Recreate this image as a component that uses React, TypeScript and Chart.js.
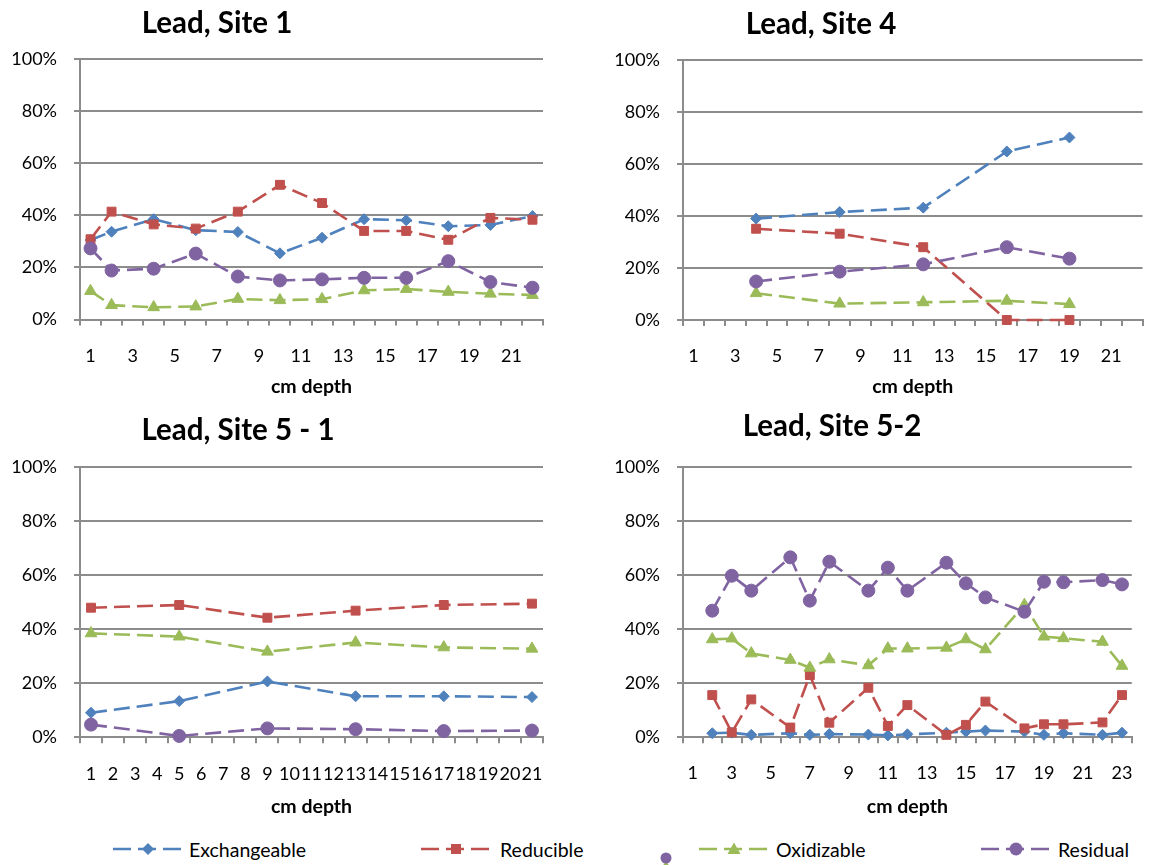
import React, { useEffect, useRef } from "react";
import { Chart, registerables } from "chart.js";

Chart.register(...registerables);

const FONT = "Lato, 'Open Sans', sans-serif";
const GRID = "#8c8c8c";

// ---------- series definitions ----------
const seriesNames = ["Exchangeable", "Reducible", "Oxidizable", "Residual"];
const seriesColors = ["#4F81BD", "#C0504D", "#9BBB59", "#8064A2"];
const seriesPoints = ["rectRot", "rect", "triangle", "circle"];
const seriesRadius = [5.5, 6.3, 6.8, 6.5];

// ---------- Lead, Site 1 ----------
const site1Categories = ["1", "2", "3", "4", "5", "6", "7", "8", "9", "10", "11", "12", "13", "14", "15", "16", "17", "18", "19", "20", "21", "22"];
const site1Depths = [1, 2, 4, 6, 8, 10, 12, 14, 16, 18, 20, 22];
const site1Exchangeable = [30.5, 33.7, 38.5, 34.3, 33.6, 25.4, 31.4, 38.5, 38.1, 35.8, 36.3, 39.7];
const site1Reducible = [30.8, 41.4, 36.5, 34.9, 41.4, 51.7, 44.7, 34.0, 34.0, 30.6, 39.0, 38.3];
const site1Oxidizable = [10.9, 5.5, 4.7, 5.0, 7.9, 7.4, 7.8, 11.2, 11.7, 10.6, 9.9, 9.4];
const site1Residual = [27.3, 18.8, 19.5, 25.3, 16.5, 15.0, 15.4, 16.0, 16.0, 22.4, 14.4, 12.2];

// ---------- Lead, Site 4 ----------
const site4Categories = ["1", "2", "3", "4", "5", "6", "7", "8", "9", "10", "11", "12", "13", "14", "15", "16", "17", "18", "19", "20", "21", "22"];
const site4Depths = [4, 8, 12, 16, 19];
const site4Exchangeable = [39.0, 41.5, 43.2, 64.8, 70.2];
const site4Reducible = [35.1, 33.2, 28.0, 0, 0];
const site4Oxidizable = [10.3, 6.3, 6.8, 7.4, 6.1];
const site4Residual = [14.8, 18.6, 21.4, 28.0, 23.6];

// ---------- Lead, Site 5 - 1 ----------
const site51Categories = ["1", "2", "3", "4", "5", "6", "7", "8", "9", "10", "11", "12", "13", "14", "15", "16", "17", "18", "19", "20", "21"];
const site51Depths = [1, 5, 9, 13, 17, 21];
const site51Exchangeable = [9.1, 13.4, 20.7, 15.2, 15.2, 14.9];
const site51Reducible = [48.0, 49.0, 44.3, 46.9, 49.0, 49.5];
const site51Oxidizable = [38.5, 37.3, 31.7, 35.1, 33.3, 32.8];
const site51Residual = [4.7, 0.5, 3.3, 3.0, 2.3, 2.5];

// ---------- Lead, Site 5-2 ----------
const site52Categories = ["1", "2", "3", "4", "5", "6", "7", "8", "9", "10", "11", "12", "13", "14", "15", "16", "17", "18", "19", "20", "21", "22", "23"];
const site52Depths = [2, 3, 4, 6, 7, 8, 10, 11, 12, 14, 15, 16, 18, 19, 20, 22, 23];
const site52Exchangeable = [1.5, 1.7, 0.9, 1.5, 0.9, 1.2, 1.0, 0.7, 1.1, 1.7, 2.1, 2.5, 2.1, 0.9, 1.5, 0.9, 1.7];
const site52Reducible = [15.6, 1.8, 14.0, 3.6, 23.0, 5.4, 18.3, 4.2, 11.9, 0.9, 4.6, 13.2, 3.3, 4.8, 4.8, 5.5, 15.6];
const site52Oxidizable = [36.2, 36.5, 31.0, 28.6, 25.7, 28.8, 26.6, 32.8, 32.8, 33.1, 36.2, 32.5, 48.9, 37.2, 36.6, 35.3, 26.4];
const site52Residual = [46.8, 59.7, 54.2, 66.5, 50.5, 64.9, 54.2, 62.7, 54.2, 64.5, 56.9, 51.7, 46.4, 57.5, 57.3, 58.1, 56.5];

const yTicks = [0, 20, 40, 60, 80, 100];

type PanelSpec = {
  title: string;
  titleX: number;
  titleY: number;
  categories: string[];
  depths: number[];
  values: number[][];
  labelEvery: number;
  x: number;
  y: number;
  w: number;
  h: number;
  plotLeft: number;
  plotRight: number;
  plotTop: number;
  plotBottom: number;
  labelY: number;
  axisTitleY: number;
};

const panels: PanelSpec[] = [
  {
    title: "Lead, Site 1", titleX: 217, titleY: 23,
    categories: site1Categories, depths: site1Depths,
    values: [site1Exchangeable, site1Reducible, site1Oxidizable, site1Residual],
    labelEvery: 2,
    x: 0, y: 0, w: 576, h: 400,
    plotLeft: 80, plotRight: 543, plotTop: 59, plotBottom: 319.5, labelY: 356, axisTitleY: 386.5,
  },
  {
    title: "Lead, Site 4", titleX: 821, titleY: 24,
    categories: site4Categories, depths: site4Depths,
    values: [site4Exchangeable, site4Reducible, site4Oxidizable, site4Residual],
    labelEvery: 2,
    x: 576, y: 0, w: 576, h: 400,
    plotLeft: 683, plotRight: 1147, plotTop: 60, plotBottom: 320, labelY: 356.5, axisTitleY: 386.5,
  },
  {
    title: "Lead, Site 5 - 1", titleX: 238, titleY: 430,
    categories: site51Categories, depths: site51Depths,
    values: [site51Exchangeable, site51Reducible, site51Oxidizable, site51Residual],
    labelEvery: 1,
    x: 0, y: 400, w: 576, h: 420,
    plotLeft: 80, plotRight: 543, plotTop: 467.3, plotBottom: 737.3, labelY: 774.5, axisTitleY: 806.5,
  },
  {
    title: "Lead, Site 5-2", titleX: 832, titleY: 426,
    categories: site52Categories, depths: site52Depths,
    values: [site52Exchangeable, site52Reducible, site52Oxidizable, site52Residual],
    labelEvery: 2,
    x: 576, y: 400, w: 576, h: 420,
    plotLeft: 683, plotRight: 1147, plotTop: 466.7, plotBottom: 737.3, labelY: 773.5, axisTitleY: 807,
  },
];

const TICK_SIZE = 18;
const AXIS_TITLE_SIZE = 19.5;
const TICK_LEN = 6;
const TITLE_SIZE = 29.5;
const LEGEND_SIZE = 19.5;

function Panel({ spec }: { spec: PanelSpec }) {
  const ref = useRef<HTMLCanvasElement | null>(null);
  useEffect(() => {
    const canvas = ref.current;
    if (!canvas) return;
    const padTop = spec.plotTop - spec.y;
    const padRight = spec.x + spec.w - spec.plotRight;
    const yWidth = spec.plotLeft - spec.x;
    const xHeight = spec.y + spec.h - spec.plotBottom;
    const lh = TICK_SIZE * 1.2;
    const xTickPad = spec.labelY - spec.plotBottom - TICK_LEN - lh / 2;
    const tlh = AXIS_TITLE_SIZE * 1.2;
    const xTitlePadBottom = spec.y + spec.h - spec.axisTitleY - tlh / 2;

    const datasets = seriesNames.map((name, i) => ({
      label: name,
      data: spec.categories.map((c) => {
        const k = spec.depths.indexOf(Number(c));
        return k >= 0 ? spec.values[i][k] : null;
      }),
      borderColor: seriesColors[i],
      backgroundColor: seriesColors[i],
      borderWidth: 2.6,
      borderDash: [16, 7],
      pointStyle: seriesPoints[i] as any,
      pointRadius: seriesRadius[i],
      pointBorderWidth: 1,
      pointBackgroundColor: seriesColors[i],
      pointBorderColor: seriesColors[i],
      spanGaps: true,
      tension: 0,
      order: 3 - i,
      clip: 10,
    }));

    const chart = new Chart(canvas, {
      type: "line",
      data: { labels: spec.categories, datasets: datasets as any },
      options: {
        responsive: false,
        animation: false,
        devicePixelRatio: 1,
        events: [],
        layout: { padding: { top: padTop, right: padRight, left: 0, bottom: 0 } },
        plugins: {
          legend: { display: false },
          tooltip: { enabled: false },
          title: { display: false },
        },
        scales: {
          x: {
            type: "category",
            offset: true,
            grid: {
              offset: true,
              drawOnChartArea: false,
              drawTicks: true,
              tickLength: TICK_LEN,
              color: GRID,
              lineWidth: 2,
            },
            border: { display: true, color: GRID, width: 2 },
            ticks: {
              autoSkip: false,
              maxRotation: 0,
              minRotation: 0,
              padding: xTickPad,
              color: "#000",
              font: { family: FONT, size: TICK_SIZE },
              callback: function (this: any, v: any, i: number) {
                return i % spec.labelEvery === 0 ? this.getLabelForValue(v) : "";
              },
            },
            title: {
              display: true,
              text: "cm depth",
              color: "#000",
              font: { family: FONT, size: AXIS_TITLE_SIZE, weight: "bold" },
              padding: { top: 0, bottom: xTitlePadBottom },
            },
            afterFit: (s: any) => {
              s.height = xHeight;
            },
          },
          y: {
            min: 0,
            max: 100,
            afterBuildTicks: (s: any) => {
              s.ticks = yTicks.map((v) => ({ value: v }));
            },
            ticks: {
              padding: 17,
              color: "#000",
              font: { family: FONT, size: TICK_SIZE },
              callback: (v: any) => v + "%",
            },
            grid: { color: GRID, lineWidth: 2, tickLength: TICK_LEN },
            border: { display: true, color: GRID, width: 2 },
            afterFit: (s: any) => {
              s.width = yWidth;
            },
          },
        },
      } as any,
    });
    return () => chart.destroy();
  }, [spec]);

  return (
    <>
      <canvas
        ref={ref}
        width={spec.w}
        height={spec.h}
        style={{ position: "absolute", left: spec.x, top: spec.y, width: spec.w, height: spec.h }}
      />
      <div
        style={{
          position: "absolute",
          left: spec.titleX - 200,
          width: 400,
          top: spec.titleY - 0.53 * TITLE_SIZE,
          textAlign: "center",
          fontFamily: FONT,
          fontWeight: 700,
          fontSize: TITLE_SIZE,
          lineHeight: 1,
          color: "#000",
          whiteSpace: "nowrap",
        }}
      >
        {spec.title}
      </div>
    </>
  );
}

const legendMarkerX = [148, 456, 734, 1016];
const legendTextX = [189, 500, 776, 1058];
const LEGEND_Y = 849;

function Marker({ kind, cx, cy, color }: { kind: string; cx: number; cy: number; color: string }) {
  if (kind === "rectRot")
    return <polygon points={`${cx - 6},${cy} ${cx},${cy - 6} ${cx + 6},${cy} ${cx},${cy + 6}`} fill={color} />;
  if (kind === "rect") return <rect x={cx - 5} y={cy - 5} width={10} height={10} fill={color} />;
  if (kind === "triangle")
    return <polygon points={`${cx - 6.5},${cy + 5} ${cx + 6.5},${cy + 5} ${cx},${cy - 6.5}`} fill={color} />;
  return <circle cx={cx} cy={cy} r={6.5} fill={color} />;
}

function Legend() {
  return (
    <svg
      width={1152}
      height={45}
      viewBox="0 820 1152 45"
      style={{ position: "absolute", left: 0, top: 820 }}
    >
      {seriesNames.map((name, i) => (
        <g key={name}>
          <line
            x1={legendMarkerX[i] - 35}
            y1={LEGEND_Y}
            x2={legendMarkerX[i] + 33}
            y2={LEGEND_Y}
            stroke={seriesColors[i]}
            strokeWidth={2.6}
            strokeDasharray="18 7"
          />
          <Marker kind={seriesPoints[i]} cx={legendMarkerX[i]} cy={LEGEND_Y} color={seriesColors[i]} />
          <text
            x={legendTextX[i]}
            y={LEGEND_Y}
            dominantBaseline="central"
            fontFamily={FONT}
            fontSize={LEGEND_SIZE}
            fill="#000"
          >
            {name}
          </text>
        </g>
      ))}
      <polygon points="660,870 672,870 666,861" fill={seriesColors[2]} />
      <circle cx={666} cy={858} r={5.5} fill={seriesColors[3]} />
    </svg>
  );
}

export default function App() {
  return (
    <div
      style={{
        position: "absolute",
        left: 0,
        top: 0,
        width: 1152,
        height: 865,
        background: "#fff",
        overflow: "hidden",
      }}
    >
      {panels.map((p) => (
        <Panel key={p.title} spec={p} />
      ))}
      <Legend />
    </div>
  );
}
